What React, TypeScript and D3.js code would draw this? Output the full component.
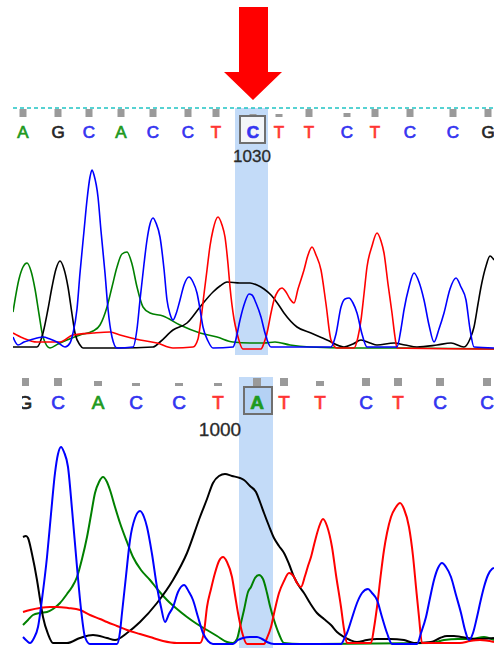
import React from 'react';
import * as d3 from 'd3';

/* ── panel 1 (top read, position 1030) ── */
const p1Bases = ['A', 'G', 'C', 'A', 'C', 'C', 'T', 'C', 'T', 'T', 'C', 'T', 'C', 'C', 'G'];
const p1BasePos = [23, 58, 89, 121, 153, 188, 216, 253, 279, 309, 347, 375, 410, 453, 488];
const p1Quality = [8, 8, 8, 8, 8, 8, 8, 3, 3, 8, 4, 8, 8, 8, 8];

const p1Green = [[13,37],[19,70],[23,82],[27,86],[31,78],[35,60],[39,35],[43,12],[50,1],[58,5],[67,9],[80,14],[93,18],[100,24],[107,42],[112,62],[117,82],[122,95],[127,97],[132,85],[137,62],[143,42],[150,36],[163,33],[180,24],[200,16],[217,12],[233,7],[250,6],[264,6],[275,7],[290,4],[310,2],[350,1],[400,1],[494,0]];
const p1Black = [[13,2],[37,2],[43,16],[48,40],[52,62],[56,80],[60,88],[64,80],[68,62],[72,35],[75,16],[80,4],[83,1],[120,1],[153,2],[160,7],[173,19],[187,26],[200,42],[213,57],[220,63],[227,67],[240,66],[250,66],[257,64],[264,60],[271,54],[278,45],[284,36],[297,22],[311,16],[327,9],[344,2],[353,5],[361,9],[370,6],[377,4],[394,6],[405,4],[417,2],[437,4],[451,6],[464,2],[470,10],[474,22],[478,45],[481,62],[486,83],[490,93],[494,89]];
const p1Blue = [[13,12],[18,4],[24,7],[30,9],[37,11],[43,12],[50,10],[57,7],[65,2],[70,6],[73,16],[77,40],[80,76],[84,118],[87,149],[90,172],[92,179],[94,174],[98,152],[101,118],[105,76],[108,40],[112,12],[117,1],[133,2],[137,20],[140,49],[144,85],[147,109],[150,125],[153,131],[156,126],[160,112],[164,80],[167,49],[170,35],[173,29],[176,35],[180,49],[184,64],[189,72],[193,67],[197,56],[200,40],[203,22],[208,8],[213,1],[233,2],[236,10],[240,29],[245,47],[249,55],[252,54],[256,46],[261,32],[265,16],[271,2],[331,2],[336,15],[341,42],[345,50],[349,51],[353,46],[357,36],[362,15],[367,2],[397,2],[401,20],[404,39],[409,62],[414,76],[419,67],[424,49],[429,24],[434,7],[439,20],[444,36],[450,60],[456,71],[461,62],[466,49],[470,20],[474,2],[494,1]];
const p1Red = [[13,16],[23,11],[37,7],[60,7],[73,14],[93,16],[110,17],[120,14],[140,9],[157,6],[173,1],[193,2],[198,10],[200,22],[204,55],[207,79],[210,103],[213,119],[218,132],[222,124],[225,112],[228,85],[230,62],[234,30],[237,16],[243,0],[261,0],[264,6],[267,16],[271,36],[274,49],[278,58],[282,61],[286,57],[290,50],[294,46],[298,60],[304,79],[308,94],[312,102],[316,94],[321,79],[326,45],[331,9],[337,1],[354,1],[358,12],[361,29],[364,55],[367,82],[372,103],[377,116],[381,108],[384,96],[388,65],[392,36],[395,12],[397,1],[494,0]];

/* ── panel 2 (bottom read, position 1000) ── */
const p2Bases = ['G', 'C', 'A', 'C', 'C', 'T', 'A', 'T', 'T', 'C', 'T', 'C', 'C'];
const p2BasePos = [25, 58, 98, 136, 179, 218, 257, 284, 320, 366, 398, 440, 487];
const p2Quality = [8, 8, 5, 3, 3, 3, 8, 8, 5, 8, 8, 8, 8];

const p2Black = [[23,107],[26,108],[28,106],[32,90],[37,64],[40,45],[43,27],[48,10],[53,1],[67,1],[80,6],[93,9],[107,6],[115,4],[127,11],[140,22],[157,41],[173,64],[187,91],[200,127],[207,145],[213,161],[219,168],[225,170],[232,168],[240,166],[244,164],[250,158],[256,152],[260,142],[264,131],[269,118],[274,106],[279,98],[284,91],[289,80],[294,67],[299,58],[304,51],[310,41],[317,31],[324,25],[331,19],[337,12],[344,7],[350,4],[357,2],[367,4],[377,5],[390,5],[404,4],[414,1],[431,2],[440,6],[447,8],[454,8],[461,7],[477,5],[494,6]];
const p2Blue = [[23,7],[27,3],[30,1],[34,6],[38,17],[42,45],[47,87],[51,130],[55,171],[58,190],[61,197],[64,192],[68,177],[72,135],[77,77],[81,35],[85,7],[90,0],[117,0],[120,12],[122,31],[126,68],[130,104],[135,126],[140,133],[144,127],[147,117],[152,90],[157,57],[161,37],[165,22],[169,30],[173,37],[178,52],[184,59],[189,52],[193,44],[198,27],[203,11],[208,3],[213,0],[233,0],[238,4],[243,6],[250,7],[257,7],[262,5],[267,2],[274,0],[341,0],[345,7],[347,11],[352,26],[357,41],[362,51],[368,55],[372,51],[377,44],[382,27],[387,11],[392,0],[417,0],[421,11],[426,27],[430,46],[434,64],[438,76],[442,81],[446,77],[451,67],[456,49],[461,31],[465,14],[469,4],[473,11],[477,27],[481,45],[484,57],[488,69],[492,75],[494,76]];
const p2Green = [[23,19],[28,24],[33,29],[40,31],[47,32],[53,35],[60,41],[67,50],[72,57],[77,67],[82,85],[87,107],[91,129],[95,151],[99,162],[103,167],[107,162],[110,154],[115,137],[120,121],[127,102],[133,87],[141,74],[150,64],[158,54],[167,44],[177,35],[187,27],[197,20],[207,14],[217,8],[227,2],[233,1],[237,5],[240,17],[244,34],[248,52],[251,57],[255,66],[259,69],[263,65],[267,51],[270,38],[274,24],[279,10],[284,1],[300,0],[431,1],[444,4],[458,5],[471,5],[484,7],[494,4]];
const p2Red = [[23,32],[30,34],[40,36],[50,37],[57,37],[68,36],[80,34],[90,29],[100,25],[107,22],[117,18],[127,14],[140,10],[150,7],[163,3],[177,1],[200,1],[204,12],[207,37],[211,55],[215,71],[219,83],[223,87],[227,82],[232,67],[235,49],[238,31],[242,12],[247,0],[264,0],[267,6],[271,17],[275,35],[279,51],[284,63],[289,71],[294,67],[297,61],[301,57],[305,68],[308,78],[311,87],[315,103],[319,117],[323,125],[327,118],[332,97],[336,69],[341,37],[344,15],[347,1],[371,1],[374,16],[377,37],[381,71],[384,94],[387,111],[391,127],[396,137],[400,141],[404,135],[409,117],[413,88],[416,57],[419,27],[422,1],[460,1],[470,3],[480,4],[494,2]];

const W = 494, H = 648;
const FONT = '"Liberation Sans", Arial, sans-serif';
const HILITE = '#c3dbf8';

const baseColor: Record<string, string> = {
  A: '#1f9a1f',
  C: '#3434f0',
  G: '#262626',
  T: '#ff3434'
};
const traceColor = { A: '#008000', C: '#0000ff', G: '#000000', T: '#ff0000' };

type Pt = number[];

/* ── one chromatogram panel ── */
function Panel(props: {
  id: string;
  left: number;
  baseline: number;
  yMax: number;
  peakTop: number;
  letterY: number;
  qualBottom: number;
  qualW: number;
  fontSize: number;
  lineW: number;
  bases: string[];
  pos: number[];
  qual: number[];
  traces: { base: string; data: Pt[] }[];
  mark: number;
  hl: { x0: number; x1: number; y0: number; y1: number };
  box: { x0: number; x1: number; y0: number; y1: number; fill: string };
  label: { text: string; x: number; y: number; size: number };
  dashed?: number;
}) {
  const p = props;
  const x = d3.scaleLinear().domain([0, W]).range([0, W]);
  const y = d3.scaleLinear().domain([0, p.yMax]).range([p.baseline, p.peakTop]);
  const line = d3.line<Pt>()
    .x(d => x(d[0]))
    .y(d => y(d[1]))
    .curve(d3.curveMonotoneX);

  return (
    <g>
      <defs>
        <clipPath id={p.id}>
          <rect x={p.left} y={0} width={W - p.left} height={H} />
        </clipPath>
      </defs>
      <g clipPath={`url(#${p.id})`}>
        {/* highlighted call column */}
        <rect x={p.hl.x0} y={p.hl.y0} width={p.hl.x1 - p.hl.x0} height={p.hl.y1 - p.hl.y0} fill={HILITE} />

        {/* quality bars */}
        {p.qual.map((q, i) => (
          <rect
            key={'q' + i}
            x={x(p.pos[i]) - p.qualW / 2}
            y={p.qualBottom - q}
            width={p.qualW}
            height={q}
            fill="#9a9a9a"
          />
        ))}

        {p.dashed != null && (
          <line x1={p.left} x2={W} y1={p.dashed} y2={p.dashed}
            stroke="#1fc4c4" strokeWidth={1.6} strokeDasharray="4,3" />
        )}

        {/* box round the called base */}
        <rect
          x={p.box.x0} y={p.box.y0}
          width={p.box.x1 - p.box.x0} height={p.box.y1 - p.box.y0}
          fill={p.box.fill} stroke="#6f6f6f" strokeWidth={2}
        />

        {/* base calls */}
        {p.bases.map((b, i) => (
          <text
            key={'b' + i}
            x={x(p.pos[i])}
            y={p.letterY}
            textAnchor="middle"
            fontFamily={FONT}
            fontSize={p.fontSize}
            fontWeight={i === p.mark ? 700 : 400}
            fill={baseColor[b]}
            stroke={baseColor[b]}
            strokeWidth={0.7}
          >
            {b}
          </text>
        ))}

        <text
          x={p.label.x} y={p.label.y}
          textAnchor="middle"
          fontFamily={FONT}
          fontSize={p.label.size}
          fill="#2a2a2a"
          stroke="#2a2a2a"
          strokeWidth={0.3}
        >
          {p.label.text}
        </text>

        {/* traces */}
        {p.traces.map(t => (
          <path
            key={t.base}
            d={line(t.data) || ''}
            fill="none"
            stroke={traceColor[t.base as keyof typeof traceColor]}
            strokeWidth={p.lineW}
            strokeLinejoin="round"
          />
        ))}
      </g>
    </g>
  );
}

export default function App() {
  return (
    <div style={{ position: 'fixed', left: 0, top: 0, width: W, height: H, background: '#fff' }}>
      <svg width={W} height={H} viewBox={`0 0 ${W} ${H}`} style={{ display: 'block' }}>
        {/* red arrow */}
        <polygon
          points="239,7 268,7 268,72 282,72 253,100 224,72 239,72"
          fill="#ff0000"
        />

        <Panel
          id="clip1"
          left={13}
          baseline={349}
          yMax={180}
          peakTop={169}
          letterY={138}
          qualBottom={117}
          qualW={7}
          fontSize={17}
          lineW={1.6}
          bases={p1Bases}
          pos={p1BasePos}
          qual={p1Quality}
          traces={[
            { base: 'A', data: p1Green },
            { base: 'G', data: p1Black },
            { base: 'T', data: p1Red },
            { base: 'C', data: p1Blue }
          ]}
          mark={7}
          hl={{ x0: 235, x1: 268, y0: 108, y1: 355 }}
          box={{ x0: 240, x1: 265, y0: 116, y1: 143, fill: '#f3f5f8' }}
          label={{ text: '1030', x: 252, y: 162, size: 17 }}
          dashed={108}
        />

        <Panel
          id="clip2"
          left={22}
          baseline={644}
          yMax={200}
          peakTop={444}
          letterY={409}
          qualBottom={386}
          qualW={8}
          fontSize={19}
          lineW={2}
          bases={p2Bases}
          pos={p2BasePos}
          qual={p2Quality}
          traces={[
            { base: 'A', data: p2Green },
            { base: 'G', data: p2Black },
            { base: 'T', data: p2Red },
            { base: 'C', data: p2Blue }
          ]}
          mark={6}
          hl={{ x0: 239, x1: 273, y0: 377, y1: 648 }}
          box={{ x0: 244, x1: 272, y0: 387, y1: 414, fill: '#b4d1f4' }}
          label={{ text: '1000', x: 220, y: 436, size: 19 }}
        />
      </svg>
    </div>
  );
}
